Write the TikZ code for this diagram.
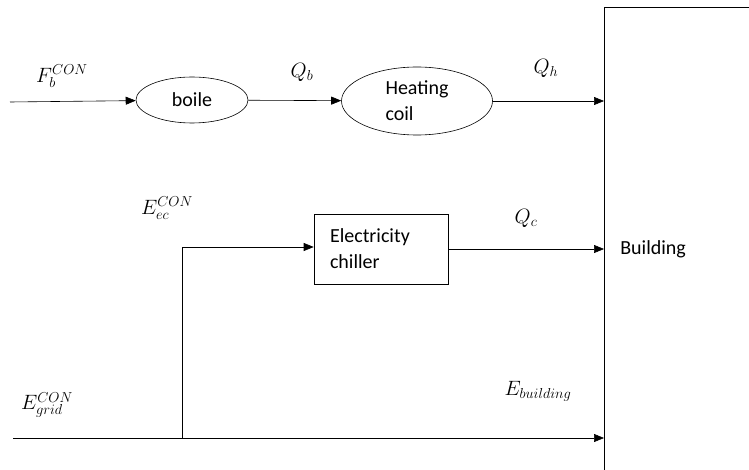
\documentclass[tikz,border=0pt]{standalone}
\usepackage{fontspec}
\setmainfont{Carlito}
\usetikzlibrary{arrows.meta,shapes.geometric}
\begin{document}
\begin{tikzpicture}[x=1pt,y=-1pt, every node/.style={font=\fontsize{20}{26}\selectfont},
  flow/.style={-{Triangle[length=10pt,width=8pt]},semithick},
  unit/.style={draw,ellipse,semithick,align=left,inner sep=0pt},
  lbl/.style={font=\fontsize{20}{22}\selectfont,inner sep=0pt}]
\clip (0,0) rectangle (749,470);
\node[draw,semithick,anchor=north west,minimum width=200pt,minimum height=484pt,text width=168pt,inner xsep=16pt,align=left] (building) at (604,7) {Building};
\node[unit,minimum width=112pt,minimum height=46pt] (boiler) at (192,100) {boile};
\node[unit,minimum width=151pt,minimum height=68pt] (coil) at (417,101) {Heating\\coil};
\node[draw,semithick,minimum width=134pt,minimum height=70pt,text width=102pt,inner xsep=16pt,align=left] (chiller) at (381,249) {Electricity\\chiller};
\coordinate (fuel) at (10,102);
\coordinate (grid) at (13,438);
\coordinate (split) at (182,438);
\coordinate (split top) at (182,247);
\draw[flow] (fuel) -- (boiler);
\draw[flow] (boiler) -- (coil);
\draw[flow] (coil) -- (coil -| building.west);
\draw[semithick] (split) -- (split top);
\draw[flow] (split top) -- (split top -| chiller.west);
\draw[flow] (chiller) -- (chiller -| building.west);
\draw[flow] (grid) -- (grid -| building.west);
\node[lbl] (Fb) at (62,76) {$F_b^{CON}$};
\node[lbl] (Qb) at (302,72) {$Q_b$};
\node[lbl] (Qh) at (546,68) {$Q_h$};
\node[lbl] (Eec) at (167,208) {$E_{ec}^{CON}$};
\node[lbl] (Qc) at (526,218) {$Q_c$};
\node[lbl] (Egrid) at (47,405) {$E_{grid}^{CON}$};
\node[lbl] (Eb) at (538,391) {$E_{building}$};
\end{tikzpicture}
\end{document}
